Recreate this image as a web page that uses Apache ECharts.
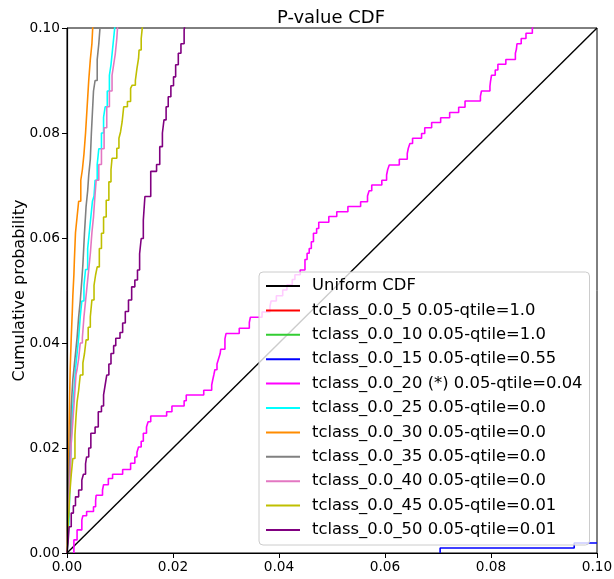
<!DOCTYPE html>
<html><head><meta charset="utf-8">
<script src="https://cdn.jsdelivr.net/npm/echarts@6/dist/echarts.min.js"></script>
<style>html,body{margin:0;padding:0;background:#fff}#c{width:614px;height:579px}</style>
</head><body><div id="c"></div><script>
// ---- data ----
var xTicks = [0, 0.02, 0.04, 0.06, 0.08, 0.10];
var yTicks = [0, 0.02, 0.04, 0.06, 0.08, 0.10];
var seriesNames = [
  'Uniform CDF',
  'tclass_0.0_5 0.05-qtile=1.0',
  'tclass_0.0_10 0.05-qtile=1.0',
  'tclass_0.0_15 0.05-qtile=0.55',
  'tclass_0.0_20 (*) 0.05-qtile=0.04',
  'tclass_0.0_25 0.05-qtile=0.0',
  'tclass_0.0_30 0.05-qtile=0.0',
  'tclass_0.0_35 0.05-qtile=0.0',
  'tclass_0.0_40 0.05-qtile=0.0',
  'tclass_0.0_45 0.05-qtile=0.01',
  'tclass_0.0_50 0.05-qtile=0.01'
];
var seriesColors = ['#000000','#ff0000','#32cd32','#0000ff','#ff00ff','#00ffff','#ff8c00','#808080','#e377c2','#bfbf00','#800080'];

var uniformCdf = [[0,0],[0.1,0.1]];
var cdf05 = [[0,0],[0.1,0]];
var cdf10 = [[0,0],[0.1,0]];
var cdf15 = [[0.0704,0],[0.0704,0.00095],[0.0957,0.0019],[0.1,0.0019]];
var cdf20 = [[0.0013,0],[0.0013,0.0025],[0.0019,0.0044],[0.0028,0.0063],[0.0030,0.0071],[0.0037,0.0079],[0.0050,0.0088],
  [0.0054,0.0100],[0.0055,0.0110],[0.0067,0.0120],[0.0069,0.0130],[0.0078,0.0142],[0.0086,0.0150],[0.0105,0.0159],
  [0.0120,0.0171],[0.0128,0.0183],[0.0132,0.0192],[0.0135,0.0202],[0.0140,0.0213],[0.0144,0.0228],[0.0150,0.0240],
  [0.0153,0.0250],[0.0158,0.0261],[0.0188,0.0269],[0.0198,0.0280],[0.0221,0.0290],[0.0225,0.0301],[0.0258,0.0310],
  [0.0273,0.0320],[0.0275,0.0330],[0.0277,0.0339],[0.0279,0.0349],[0.0283,0.0360],[0.0286,0.0370],[0.0289,0.0380],
  [0.0290,0.0388],[0.0298,0.0408],[0.0300,0.0418],[0.0325,0.0428],[0.0344,0.0439],[0.0346,0.0449],[0.0368,0.0459],
  [0.0383,0.0470],[0.0385,0.0480],[0.0395,0.0490],[0.0407,0.0501],[0.0415,0.0511],[0.0425,0.0521],[0.0430,0.0530],
  [0.0440,0.0539],[0.0449,0.0559],[0.0453,0.0571],[0.0457,0.0580],[0.0461,0.0593],[0.0465,0.0609],[0.0471,0.0618],
  [0.0475,0.0630],[0.0494,0.0641],[0.0509,0.0650],[0.0530,0.0660],[0.0554,0.0669],[0.0567,0.0680],[0.0570,0.0690],
  [0.0575,0.0701],[0.0594,0.0710],[0.0603,0.0720],[0.0605,0.0730],[0.0608,0.0739],[0.0627,0.0750],[0.0642,0.0761],
  [0.0644,0.0771],[0.0647,0.0780],[0.0652,0.0790],[0.0669,0.0799],[0.0675,0.0810],[0.0688,0.0820],[0.0705,0.0829],
  [0.0722,0.0839],[0.0739,0.0849],[0.0751,0.0861],[0.0780,0.0870],[0.0782,0.0880],[0.0798,0.0889],[0.0799,0.0898],
  [0.0801,0.0910],[0.0808,0.0920],[0.0813,0.0931],[0.0828,0.0940],[0.0846,0.0952],[0.0848,0.0960],[0.0849,0.0970],
  [0.0857,0.0980],[0.0866,0.0990],[0.0878,0.0999],[0.0880,0.1010]];
var cdf25 = [[0,0],[0.0002,0.003],[0.0004,0.007],[0.0006,0.015],[0.0008,0.021],[0.0011,0.028],[0.0014,0.032],[0.0016,0.035],
  [0.0019,0.038],[0.0022,0.041],[0.0025,0.045],[0.0028,0.048],[0.0032,0.051],[0.0035,0.054],[0.0039,0.058],[0.0042,0.061],
  [0.0045,0.064],[0.0048,0.067],[0.0051,0.068],[0.0053,0.071],[0.0057,0.074],[0.0060,0.077],[0.0065,0.080],[0.0069,0.083],
  [0.0072,0.085],[0.0076,0.088],[0.0080,0.091],[0.0083,0.093],[0.0085,0.095],[0.0087,0.097],[0.0089,0.099],[0.0091,0.101]];
var cdf30 = [[0,0],[0.0001,0.004],[0.0002,0.009],[0.0003,0.016],[0.0004,0.024],[0.0005,0.030],[0.0006,0.035],[0.0008,0.041],
  [0.0010,0.046],[0.0011,0.049],[0.0013,0.053],[0.0014,0.056],[0.0016,0.061],[0.0019,0.064],[0.0022,0.067],[0.0026,0.071],
  [0.0029,0.073],[0.0032,0.076],[0.0035,0.080],[0.0038,0.085],[0.0041,0.090],[0.0044,0.094],[0.0047,0.097],[0.0049,0.101]];
var cdf35 = [[0,0],[0.0001,0.003],[0.0003,0.0085],[0.0004,0.015],[0.0006,0.021],[0.0008,0.028],[0.0011,0.033],[0.0014,0.036],
  [0.0017,0.039],[0.0019,0.041],[0.0022,0.045],[0.0025,0.048],[0.0028,0.052],[0.0030,0.055],[0.0033,0.061],[0.0036,0.066],
  [0.0039,0.069],[0.0041,0.072],[0.0044,0.075],[0.0046,0.080],[0.0048,0.084],[0.0050,0.088],[0.0053,0.090],[0.0057,0.094],
  [0.0060,0.097],[0.0063,0.101]];
var cdf40 = [[0,0],[0.0001,0.003],[0.0003,0.0085],[0.0006,0.015],[0.0008,0.021],[0.0011,0.025],[0.0013,0.028],[0.0015,0.031],
  [0.0017,0.034],[0.0019,0.035],[0.0022,0.037],[0.0025,0.040],[0.0029,0.041],[0.0032,0.045],[0.0035,0.048],[0.0038,0.051],
  [0.0041,0.054],[0.0044,0.057],[0.0047,0.061],[0.0050,0.064],[0.0052,0.067],[0.0055,0.071],[0.0060,0.074],[0.0065,0.077],
  [0.0070,0.081],[0.0075,0.085],[0.0080,0.088],[0.0085,0.091],[0.0088,0.093],[0.0091,0.095],[0.0094,0.098],[0.0096,0.101]];
var cdf45 = [[0,0],[0.0001,0.002],[0.0003,0.0067],[0.0005,0.011],[0.0008,0.0149],[0.0011,0.018],[0.0015,0.0225],[0.0017,0.026],
  [0.0019,0.0288],[0.0022,0.031],[0.0025,0.0339],[0.0030,0.0362],[0.0033,0.038],[0.0036,0.0406],[0.0040,0.043],[0.0044,0.045],
  [0.0047,0.0482],[0.0051,0.051],[0.0054,0.053],[0.0057,0.0545],[0.0061,0.058],[0.0065,0.0609],[0.0069,0.064],[0.0074,0.0672],
  [0.0079,0.0707],[0.0083,0.073],[0.0085,0.0752],[0.0094,0.0771],[0.0098,0.079],[0.0101,0.0802],[0.0104,0.0821],[0.0107,0.0850],
  [0.0114,0.0860],[0.0120,0.0885],[0.0123,0.0891],[0.0129,0.090],[0.0132,0.0923],[0.0135,0.0942],[0.0136,0.0958],[0.0140,0.0980],
  [0.0143,0.101]];
var cdf50 = [[0,0],[0.0002,0.002],[0.0004,0.005],[0.0008,0.0076],[0.0012,0.009],[0.0016,0.0107],[0.0022,0.012],[0.0028,0.0139],
  [0.0031,0.015],[0.0035,0.017],[0.0037,0.0183],[0.0041,0.020],[0.0045,0.0228],[0.0053,0.0240],[0.0059,0.0269],[0.0065,0.0280],
  [0.0069,0.0301],[0.0072,0.0320],[0.0075,0.0339],[0.0079,0.0360],[0.0083,0.0380],[0.0088,0.0395],[0.0092,0.0409],[0.0100,0.0420],
  [0.0105,0.0438],[0.0110,0.0460],[0.0116,0.0482],[0.0122,0.0507],[0.0128,0.0520],[0.0133,0.0539],[0.0137,0.0570],[0.0140,0.0599],
  [0.0144,0.0634],[0.0147,0.0679],[0.0158,0.0727],[0.0169,0.0740],[0.0175,0.0774],[0.0180,0.080],[0.0183,0.0825],[0.0187,0.085],
  [0.0191,0.0869],[0.0196,0.089],[0.0201,0.0907],[0.0205,0.093],[0.0210,0.0952],[0.0215,0.097],[0.0221,0.0996],[0.0223,0.101]];
var seriesData = [uniformCdf, cdf05, cdf10, cdf15, cdf20, cdf25, cdf30, cdf35, cdf40, cdf45, cdf50];
// series lying entirely on the bottom spine are hidden by it in the original
var hiddenUnderSpine = [false, true, true, false, false, false, false, false, false, false, false];

// ---- chart ----
var FONT = 'DejaVu Sans';
var chart = echarts.init(document.getElementById('c'), null, {renderer: 'canvas'});
var series = seriesData.map(function (d, i) {
  return {
    name: seriesNames[i], type: 'line', data: d,
    step: i === 0 ? false : 'end',
    showSymbol: false, symbol: 'none', silent: true, animation: false,
    lineStyle: {color: seriesColors[i], width: hiddenUnderSpine[i] ? 0 : (i === 0 ? 1.4 : 1.6)},
    itemStyle: {color: seriesColors[i]}
  };
});
function axisCommon(extra) {
  return Object.assign({
    type: 'value', min: 0, max: 0.1, interval: 0.02,
    splitLine: {show: false},
    axisLine: {show: true, onZero: false, lineStyle: {color: '#000', width: 1.2}},
    axisTick: {show: true, length: 5, lineStyle: {color: '#000', width: 1}},
    axisLabel: {color: '#000', fontSize: 13.7, fontFamily: FONT, margin: 7,
      formatter: function (v) { return v.toFixed(2); }},
    zlevel: 1
  }, extra);
}
chart.setOption({
  animation: false,
  backgroundColor: '#fff',
  textStyle: {fontFamily: FONT},
  title: {text: 'P-value CDF', left: 326, top: 4, textAlign: 'center',
    textStyle: {fontFamily: FONT, fontSize: 18, fontWeight: 'normal', color: '#000'}},
  grid: {left: 67, right: 17, top: 28, bottom: 26, containLabel: false, outerBoundsMode: 'none',
    show: true, borderColor: '#000', borderWidth: 1, backgroundColor: 'transparent'},
  xAxis: axisCommon({}),
  yAxis: axisCommon({
    name: 'Cumulative probability', nameLocation: 'middle', nameGap: 39, nameMoveOverlap: false,
    nameTextStyle: {color: '#000', fontSize: 16, fontFamily: FONT}
  }),
  legend: {
    data: seriesNames, orient: 'vertical', left: 259, top: 272,
    icon: 'rect', itemWidth: 34, itemHeight: 2, itemGap: 4.4,
    padding: [4, 7, 5, 7],
    backgroundColor: 'rgba(255,255,255,0.8)', borderColor: '#cccccc', borderWidth: 1, borderRadius: 4,
    textStyle: {fontFamily: FONT, fontSize: 16.4, lineHeight: 20, color: '#000', padding: [0, 0, 0, 7]},
    selectedMode: false
  },
  series: series
});
</script></body></html>
